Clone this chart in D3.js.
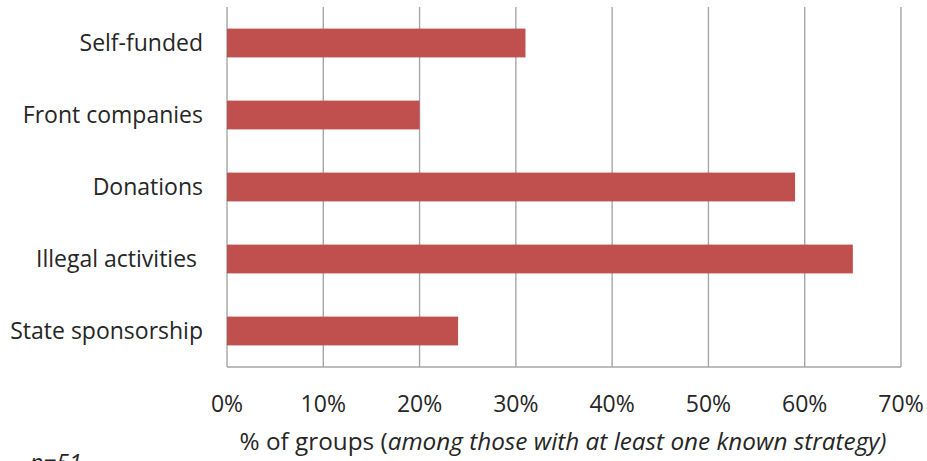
<!DOCTYPE html>
<html>
<head>
<meta charset="utf-8">
<script src="https://cdn.jsdelivr.net/npm/d3@7"></script>
<style>
  html, body { margin: 0; padding: 0; background: #fff; }
  svg { display: block; }
  text { font-family: "Open Sans", Lato, sans-serif; fill: #262626; white-space: pre; }
</style>
</head>
<body>
<svg id="chart" width="927" height="461"></svg>
<script>
// Funding strategies of groups, share of groups using each
const categories = ["Self-funded", "Front companies", "Donations", "Illegal activities ", "State sponsorship"];
const shares = [31, 20, 59, 65, 24];
const tickValues = [0, 10, 20, 30, 40, 50, 60, 70];
const axisTitlePlain = "% of groups (";
const axisTitleItalic = "among those with at least one known strategy)";
const note = "n=51";

const svg = d3.select("#chart");
const margin = { left: 227, right: 26, top: 7, bottom: 94 };
const W = 927, H = 461;

const x = d3.scaleLinear().domain([0, 70]).range([margin.left, W - margin.right]);
const y = d3.scaleBand().domain(categories).range([margin.top, H - margin.bottom]).paddingInner(0.6).paddingOuter(0.3);

// vertical gridlines
svg.append("g")
  .selectAll("line")
  .data(tickValues)
  .join("line")
  .attr("x1", d => x(d)).attr("x2", d => x(d))
  .attr("y1", margin.top).attr("y2", H - margin.bottom)
  .attr("stroke", "#a6a6a6").attr("stroke-width", 1.4);

// baseline
svg.append("line")
  .attr("x1", x(0)).attr("x2", x(70))
  .attr("y1", H - margin.bottom).attr("y2", H - margin.bottom)
  .attr("stroke", "#a6a6a6").attr("stroke-width", 1.4);

// bars
svg.append("g")
  .selectAll("rect")
  .data(categories)
  .join("rect")
  .attr("x", x(0))
  .attr("y", d => y(d))
  .attr("width", (d, i) => x(shares[i]) - x(0))
  .attr("height", y.bandwidth())
  .attr("fill", "#c0504d");

// category labels
svg.append("g")
  .selectAll("text")
  .data(categories)
  .join("text")
  .attr("x", 203)
  .attr("y", d => y(d) + y.bandwidth() / 2 + 8)
  .attr("text-anchor", "end")
  .attr("font-size", 23)
  .text(d => d);

// x tick labels
svg.append("g")
  .selectAll("text")
  .data(tickValues)
  .join("text")
  .attr("x", d => x(d))
  .attr("y", 412)
  .attr("text-anchor", "middle")
  .attr("font-size", 23)
  .text(d => d + "%");

// axis title
const title = svg.append("text")
  .attr("x", (238 + 888) / 2)
  .attr("y", 450)
  .attr("text-anchor", "middle")
  .attr("font-size", 24.3);
title.append("tspan").text(axisTitlePlain);
title.append("tspan").attr("font-style", "italic").text(axisTitleItalic);

// sample size note
svg.append("text")
  .attr("x", 30)
  .attr("y", 471)
  .attr("font-size", 23)
  .attr("font-style", "italic")
  .text(note);
</script>
</body>
</html>
